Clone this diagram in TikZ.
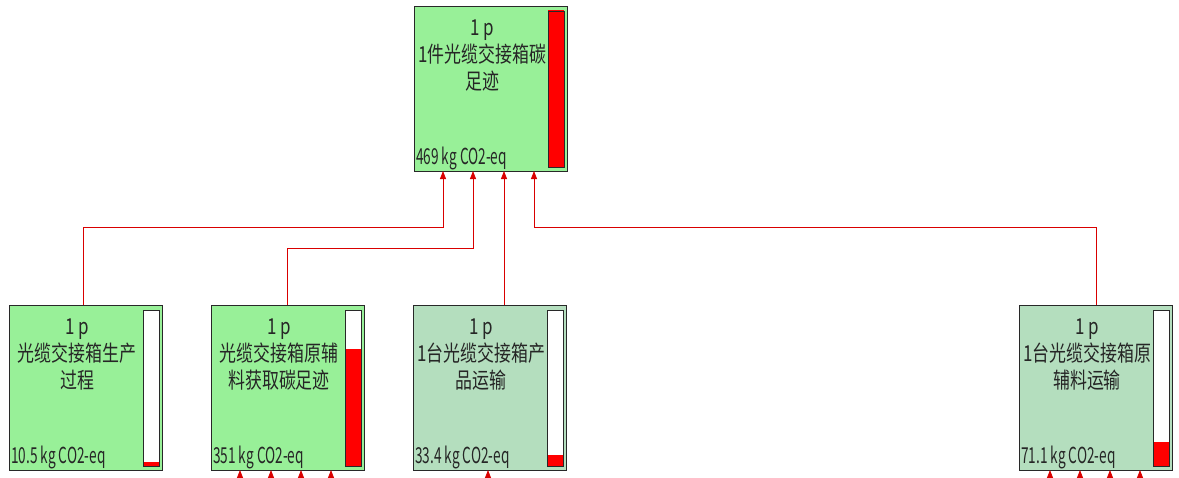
\documentclass[tikz,border=0pt]{standalone}
\usepackage{fontspec}
\setmainfont{Noto Sans CJK SC}
\usetikzlibrary{arrows.meta}
\definecolor{procgreen}{RGB}{152,240,152}
\definecolor{transgreen}{RGB}{180,222,190}
\definecolor{frame}{RGB}{40,40,40}
\tikzset{
  box/.style={draw=frame, line width=1pt, minimum width=153pt, minimum height=165pt,
              anchor=north west, inner sep=0pt, outer sep=0pt},
  title/.style={anchor=north, inner sep=0pt, text=black!85},
  vlabel/.style={anchor=base west, inner sep=0pt, text=black!85},
  barframe/.style={draw=frame, line width=0.8pt},
  conn/.style={draw=red!85!black, line width=0.8pt, -{Triangle[length=8pt,width=6pt]}},
}
\newcommand\procbox[7]{%
  \node[box, fill=#4] (#1) at (#2,#3) {};
  \node[title] at ([xshift=68pt,yshift=-10pt]#1.north west)
    {\fontsize{22}{27}\selectfont\scalebox{0.77}[1]{\begin{tabular}{@{}c@{}}#5\end{tabular}}};
  \node[vlabel] at ([xshift=2pt,yshift=7pt]#1.south west)
    {\fontsize{22}{27}\selectfont\scalebox{0.62}[1]{#6}};
  \pgfmathsetmacro\barh{#7/469*157}
  \fill[white] ([xshift=134pt,yshift=-5pt]#1.north west) rectangle ([xshift=-3pt,yshift=4pt]#1.south east);
  \fill[red] ([xshift=134pt,yshift=4pt]#1.south west) rectangle ([xshift=-3pt,yshift=\barh pt+4pt]#1.south east);
  \draw[barframe] ([xshift=134pt,yshift=-5pt]#1.north west) rectangle ([xshift=-3pt,yshift=4pt]#1.south east);
}
\begin{document}
\begin{tikzpicture}[x=1pt,y=-1pt]
\useasboundingbox (0,0) rectangle (1179,477);
\clip (0,0) rectangle (1179,477);
\procbox{top}{414}{6}{procgreen}{1 p\\1件光缆交接箱碳\\足迹}{469 kg CO2-eq}{469}
\procbox{b1}{9}{305}{procgreen}{1 p\\光缆交接箱生产\\过程}{10.5 kg CO2-eq}{10.5}
\procbox{b2}{211}{305}{procgreen}{1 p\\光缆交接箱原辅\\料获取碳足迹}{351 kg CO2-eq}{351}
\procbox{b3}{413}{305}{transgreen}{1 p\\1台光缆交接箱产\\品运输}{33.4 kg CO2-eq}{33.4}
\procbox{b4}{1019}{305}{transgreen}{1 p\\1台光缆交接箱原\\辅料运输}{71.1 kg CO2-eq}{71.1}
% connectors to the top box
\draw[conn] ([xshift=74pt]b1.north west) |- (443,227) -- ([xshift=29pt]top.south west);
\draw[conn] ([xshift=76pt]b2.north west) |- (473,248) -- ([xshift=59pt]top.south west);
\draw[conn] ([xshift=91pt]b3.north west) -- ([xshift=90pt]top.south west);
\draw[conn] ([xshift=77pt]b4.north west) |- (534,227) -- ([xshift=120pt]top.south west);
% incoming stubs from below the frame
\foreach \o [count=\i] in {29,60,90,120}{
  \coordinate (s2\i) at ([xshift=\o pt,yshift=-20pt]b2.south west);
  \draw[conn] (s2\i) -- ([xshift=\o pt]b2.south west);
}
\coordinate (s31) at ([xshift=75pt,yshift=-20pt]b3.south west);
\draw[conn] (s31) -- ([xshift=75pt]b3.south west);
\foreach \o [count=\i] in {31,61,91,121}{
  \coordinate (s4\i) at ([xshift=\o pt,yshift=-20pt]b4.south west);
  \draw[conn] (s4\i) -- ([xshift=\o pt]b4.south west);
}
\end{tikzpicture}
\end{document}
